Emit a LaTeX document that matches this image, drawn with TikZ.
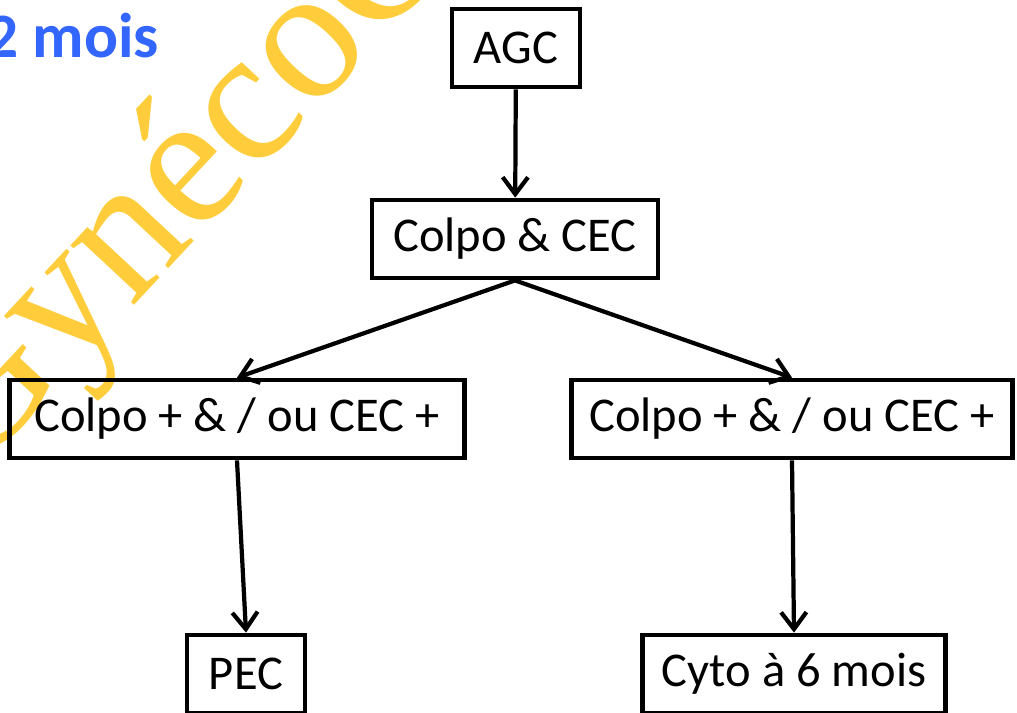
\documentclass[tikz,border=0pt]{standalone}
\usepackage{fontspec}
\setmainfont{Carlito}
\newfontfamily\wmfont{Liberation Serif}
\usetikzlibrary{arrows.meta,positioning}
\definecolor{wmyellow}{RGB}{255,205,60}
\definecolor{titleblue}{RGB}{51,102,255}
\tikzset{
  box/.style={draw, line width=3.4pt, minimum height=1.95cm, inner xsep=0.3cm,
    font=\fontsize{34.5}{38}\selectfont},
  arr/.style={line width=3pt, -{Straight Barb[length=12pt,width=18pt]}},
}

\begin{document}
\begin{tikzpicture}[x=0.025cm,y=-0.025cm]
  \useasboundingbox (0,0) rectangle (1017,712);
  % watermark and title
  \node[anchor=base west, rotate=47, text=wmyellow, inner sep=0pt,
    font=\wmfont\fontsize{135}{138}\selectfont] (wm) at (-27,478) {GynécoOnline};
  \node[anchor=base west, text=titleblue, inner sep=0pt,
    font=\bfseries\fontsize{45}{50}\selectfont] (title) at (-14,57) {2 mois};
  % boxes
  \node[box, minimum width=3.2cm] (agc) at (516,48) {AGC};
  \node[box, minimum width=7.15cm] (colpo) at (515,239) {Colpo \& CEC};
  \node[box, minimum width=11.375cm] (left) at (237,419) {Colpo + \& / ou CEC +};
  \node[box, minimum width=11.025cm] (right) at (792,419) {Colpo + \& / ou CEC +};
  \node[box, minimum width=2.95cm] (pec) at (246,674) {PEC};
  \node[box, minimum width=7.575cm] (cyto) at (794,674) {Cyto à 6 mois};
  % arrows
  \draw[arr] (agc) -- (colpo);
  \draw[arr] (colpo.south) -- (left.north);
  \draw[arr] (colpo.south) -- (right.north);
  \draw[arr] (left.south) -- (pec.north);
  \draw[arr] (right.south) -- (cyto.north);
\end{tikzpicture}
\end{document}
